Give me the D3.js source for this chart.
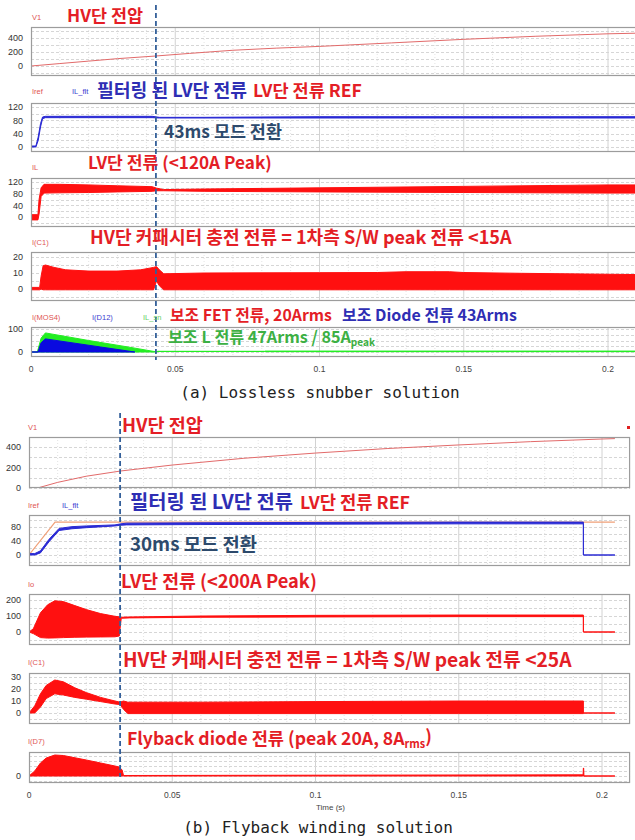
<!DOCTYPE html>
<html><head><meta charset="utf-8">
<script src="https://cdn.jsdelivr.net/npm/d3@7"></script>
<style>body{margin:0;background:#fff}svg{display:block}</style>
</head><body>
<script>
// ================= DATA =================
// Time-axis tick labels
const xTicks = [0, 0.05, 0.1, 0.15, 0.2];
const xTickLabels = ["0", "0.05", "0.1", "0.15", "0.2"];

// ---- (a) Lossless snubber solution ----
const aV1_t = [0, 0.01, 0.02, 0.03, 0.0433, 0.055, 0.07, 0.085, 0.1, 0.125, 0.15, 0.175, 0.2, 0.2115];
const aV1_v = [0, 35, 70, 105, 143, 180, 225, 255, 280, 330, 381, 425, 460, 470];

const aILflt_t  = [0, 0.0017, 0.0025, 0.0033, 0.004, 0.005, 0.02, 0.042, 0.0445, 0.06, 0.1, 0.15, 0.2, 0.2115];
const aILflt_hi = [3, 3, 30, 70, 90, 92, 92, 92, 89, 89, 91, 91, 91, 91];
const aILflt_lo = [0, 0, 20, 60, 85, 88, 88, 88, 87, 87, 87, 87, 87, 87];

const aIL_t  = [0, 0.0024, 0.0028, 0.0035, 0.0045, 0.01, 0.02, 0.03, 0.042, 0.0435, 0.046, 0.06, 0.1, 0.15, 0.2, 0.2115];
const aIL_hi = [8, 8, 60, 100, 112, 112, 110, 107, 104, 99, 94, 96, 100, 105, 110, 110];
const aIL_lo = [-10, -10, 10, 70, 82, 83, 84, 86, 88, 90, 90, 88, 86, 84, 82, 82];

const aIC1_t  = [0, 0.003, 0.0035, 0.0042, 0.005, 0.008, 0.012, 0.02, 0.03, 0.038, 0.0425, 0.0435, 0.0445, 0.046, 0.06, 0.1, 0.12, 0.13, 0.145, 0.15, 0.17, 0.2, 0.2115];
const aIC1_hi = [1, 1, 8, 14.5, 15, 13.5, 12, 11.2, 11.2, 12, 13.5, 14, 12, 9.5, 10, 10.2, 10.3, 10.8, 10.8, 10.3, 9.8, 9.2, 9];
const aIC1_lo = [-0.5, -0.5, 0, -0.5, -0.5, -0.5, -0.5, -0.5, -0.5, -0.5, -0.5, 5, 2, -0.5, -0.5, -0.5, -0.5, -0.5, -0.5, -0.5, -0.5, -0.5, -0.5];

const aLsn_t  = [0, 0.0022, 0.0035, 0.005, 0.02, 0.035, 0.0437, 0.0438, 0.081, 0.0812, 0.2115];
const aLsn_hi = [0, 0, 60, 83, 50, 19, 0, 3, 3, 4, 4];
const aLsn_lo = [0, 0, 0, 0, 0, 0, 0, 2, 2, 1.5, 1.5];

const aD12_t  = [0, 0.0024, 0.0035, 0.005, 0.024, 0.036];
const aD12_hi = [0, 0, 40, 57, 22, 0];
const aD12_lo = [0, 0, 0, 0, 0, 0];

// ---- (b) Flyback winding solution ----
const bV1_t = [0, 0.003, 0.01, 0.02, 0.032, 0.05, 0.075, 0.1, 0.125, 0.15, 0.175, 0.2, 0.2045];
const bV1_v = [0, 0, 55, 115, 166, 224, 290, 341, 385, 420, 452, 478, 482];

const bIref_t = [0, 0.0091, 0.2045];
const bIref_v = [0, 94, 94];

const bILflt_t  = [0, 0.002, 0.004, 0.007, 0.0105, 0.015, 0.02, 0.03, 0.032, 0.034, 0.06, 0.1, 0.15, 0.1935, 0.19351, 0.2045];
const bILflt_hi = [4, 4, 12, 45, 76, 81, 83, 86, 89, 91, 92, 93, 94, 94, 0, 0];
const bILflt_lo = [0, 0, 6, 38, 70, 75, 78, 83, 85, 86, 87, 88, 89, 89, 0, 0];

const bIo_t  = [0, 0.0015, 0.004, 0.0065, 0.009, 0.012, 0.016, 0.02, 0.025, 0.03, 0.0315, 0.0322, 0.035, 0.06, 0.1, 0.15, 0.1935, 0.19351, 0.2045];
const bIo_hi = [0, 20, 120, 170, 195, 190, 165, 140, 115, 98, 95, 92, 94, 100, 104, 106, 106, 0, 0];
const bIo_lo = [0, -10, -35, -38, -37, -35, -33, -32, -31, -30, -25, 86, 88, 92, 94, 96, 96, 0, 0];

const bIC1_t  = [0, 0.002, 0.004, 0.006, 0.009, 0.012, 0.016, 0.02, 0.025, 0.03, 0.0318, 0.033, 0.0345, 0.06, 0.1, 0.15, 0.1935, 0.19351, 0.2045];
const bIC1_hi = [0, 6, 16, 23, 27.5, 26, 21, 17, 13, 10, 9, 10, 9, 9, 9.5, 10, 10, 0, 0];
const bIC1_lo = [0, 0, 5, 12, 16, 15, 13, 11.5, 9.5, 7.5, 7, 3, -0.5, -0.5, -0.5, -0.5, -0.5, 0, 0];

const bD7_t  = [0, 0.002, 0.004, 0.006, 0.009, 0.012, 0.02, 0.025, 0.03, 0.0315, 0.0325, 0.033, 0.1, 0.1934, 0.1935, 0.1936, 0.1937, 0.2045];
const bD7_hi = [0, 5, 13, 18, 21, 20.5, 16, 13, 10, 9, 6, 0.5, 0.8, 1.2, 8, 8, 0, 0];
const bD7_lo = [0, 0, 0, 0, 0, 0, 0, 0, 0, 0, 0, 0, 0, 0, 0, 0, 0, 0];

// Y tick values per panel
const aTicks = [[0, 200, 400], [0, 40, 80, 120], [0, 40, 80, 120], [0, 10, 20], [0, 100]];
const bTicks = [[0, 200, 400], [0, 40, 80], [0, 100, 200], [0, 10, 20, 30], [0]];

// Mode-switch instants
const aSwitch = 0.0433, bSwitch = 0.0318;

// ================= LAYOUT / STYLE =================
const W = 635, H = 840;
const RED = "#ff1010", BLUE = "#0a0ae0", GREEN = "#22ee22";
const TRED = "#e41e26", TBLUE = "#2e2eb4", TGREEN = "#3cb043", TSLATE = "#2d4a6c";

const svg = d3.select("body").append("svg").attr("width", W).attr("height", H)
  .style("font-family", "'Liberation Sans', Arial, sans-serif");

const zip = (t, hi, lo) => t.map((d, i) => ({t: d, hi: hi[i], lo: lo[i]}));

const parts = {
  a: {x: d3.scaleLinear().domain([0, 0.2]).range([31, 608]), tEnd: 0.2125, tickX: 23,
      switchT: aSwitch, dashY: [5, 360], axisY: 372, caption: "(a) Lossless snubber solution", capX: 320, capY: 398,
      panels: [
        {top: 27, bottom: 76, a0: [0, 66], a1: [400, 38], ticks: aTicks[0], minor: 100},
        {top: 103, bottom: 152, a0: [0, 147], a1: [120, 107], ticks: aTicks[1], minor: 20},
        {top: 178, bottom: 227, a0: [0, 217], a1: [120, 182], ticks: aTicks[2], minor: 20},
        {top: 252, bottom: 301, a0: [0, 289], a1: [20, 257], ticks: aTicks[3], minor: 5},
        {top: 327, bottom: 357, a0: [0, 352], a1: [100, 329], ticks: aTicks[4], minor: 25}
      ]},
  b: {x: d3.scaleLinear().domain([0, 0.2]).range([29, 602]), tEnd: 0.2098, tickX: 21,
      switchT: bSwitch, dashY: [413, 777], axisY: 798, caption: "(b) Flyback winding solution", capX: 318, capY: 833,
      panels: [
        {top: 437, bottom: 488, a0: [0, 488], a1: [400, 447], ticks: bTicks[0], minor: 100},
        {top: 515, bottom: 566, a0: [0, 555], a1: [80, 527], ticks: bTicks[1], minor: 20},
        {top: 594, bottom: 645, a0: [0, 632], a1: [200, 600], ticks: bTicks[2], minor: 50},
        {top: 673, bottom: 724, a0: [0, 713], a1: [30, 677], ticks: bTicks[3], minor: 5},
        {top: 752, bottom: 783, a0: [0, 776], a1: [20, 756], ticks: bTicks[4], minor: 5}
      ]}
};

// Series per panel
parts.a.panels[0].series = [{type: "line", data: zip(aV1_t, aV1_v, aV1_v), color: "#e26a6a", w: 1}];
parts.a.panels[1].series = [{type: "band", data: zip(aILflt_t, aILflt_hi, aILflt_lo), color: "#2a2ad4", w: 1}];
parts.a.panels[2].series = [{type: "band", data: zip(aIL_t, aIL_hi, aIL_lo), color: RED, w: 1}];
parts.a.panels[3].series = [{type: "band", data: zip(aIC1_t, aIC1_hi, aIC1_lo), color: RED, w: 1}];
parts.a.panels[4].series = [
  {type: "band", data: zip(aLsn_t, aLsn_hi, aLsn_lo), color: GREEN, w: 1},
  {type: "band", data: zip(aD12_t, aD12_hi, aD12_lo), color: BLUE, w: 1}];

parts.b.panels[0].series = [{type: "line", data: zip(bV1_t, bV1_v, bV1_v), color: "#e26a6a", w: 1}];
parts.b.panels[1].series = [
  {type: "line", data: zip(bIref_t, bIref_v, bIref_v), color: "#f0a078", w: 1.2},
  {type: "band", data: zip(bILflt_t, bILflt_hi, bILflt_lo), color: "#2a2ad4", w: 1}];
parts.b.panels[2].series = [{type: "band", data: zip(bIo_t, bIo_hi, bIo_lo), color: RED, w: 1}];
parts.b.panels[3].series = [{type: "band", data: zip(bIC1_t, bIC1_hi, bIC1_lo), color: RED, w: 1}];
parts.b.panels[4].series = [{type: "band", data: zip(bD7_t, bD7_hi, bD7_lo), color: RED, w: 1}];

function drawPart(P) {
  const x = P.x;
  const xL = x(0), xR = x(P.tEnd);
  const g = svg.append("g");
  P.panels.forEach(p => {
    const y = d3.scaleLinear().domain([p.a0[0], p.a1[0]]).range([p.a0[1], p.a1[1]]);
    const pg = g.append("g");
    pg.append("rect").attr("x", xL).attr("y", p.top).attr("width", xR - xL).attr("height", p.bottom - p.top)
      .attr("fill", "#fff");
    const clipId = "c" + Math.round(p.top);
    pg.append("clipPath").attr("id", clipId).append("rect")
      .attr("x", xL).attr("y", p.top).attr("width", xR - xL).attr("height", p.bottom - p.top);
    // minor vertical grid
    const minorT = d3.range(0.01, P.tEnd, 0.01).filter(t => Math.abs(t / 0.05 - Math.round(t / 0.05)) > 1e-6);
    pg.selectAll(".vm").data(minorT).join("line")
      .attr("x1", d => x(d)).attr("x2", d => x(d)).attr("y1", p.top).attr("y2", p.bottom)
      .attr("stroke", "#e4e4e4").attr("stroke-dasharray", "1,2").attr("stroke-width", 1);
    // major vertical grid
    pg.selectAll(".vM").data(xTicks.slice(1)).join("line")
      .attr("x1", d => x(d)).attr("x2", d => x(d)).attr("y1", p.top).attr("y2", p.bottom)
      .attr("stroke", "#d2d2d2").attr("stroke-width", 1);
    // horizontal grid
    const vLo = y.invert(p.bottom), vHi = y.invert(p.top);
    const hv = d3.range(Math.ceil(vLo / p.minor) * p.minor, vHi, p.minor);
    pg.selectAll(".h").data(hv).join("line")
      .attr("x1", xL).attr("x2", xR).attr("y1", d => Math.round(y(d)) + 0.5).attr("y2", d => Math.round(y(d)) + 0.5)
      .attr("stroke", "#d6d6d6").attr("stroke-dasharray", "3,2").attr("stroke-width", 1);
    // series
    const sg = pg.append("g").attr("clip-path", `url(#${clipId})`);
    p.series.forEach(s => {
      if (s.type === "band") {
        const area = d3.area().x(d => x(d.t)).y0(d => y(d.lo)).y1(d => y(d.hi));
        sg.append("path").attr("d", area(s.data)).attr("fill", s.color)
          .attr("stroke", s.color).attr("stroke-width", s.w).attr("stroke-linejoin", "round");
      } else {
        const line = d3.line().x(d => x(d.t)).y(d => y(d.hi));
        sg.append("path").attr("d", line(s.data)).attr("fill", "none")
          .attr("stroke", s.color).attr("stroke-width", s.w);
      }
    });
    // border
    pg.append("rect").attr("x", xL + 0.5).attr("y", p.top + 0.5).attr("width", xR - xL - 1).attr("height", p.bottom - p.top - 1)
      .attr("fill", "none").attr("stroke", "#9c9c9c").attr("stroke-width", 1.2);
    // y tick labels
    pg.selectAll(".yt").data(p.ticks).join("text")
      .attr("x", P.tickX).attr("y", d => y(d) + 3.2).attr("text-anchor", "end")
      .attr("font-size", 9).attr("fill", "#333").text(d => d);
  });
  // x tick labels
  g.selectAll(".xt").data(xTicks).join("text")
    .attr("x", d => x(d)).attr("y", P.axisY).attr("text-anchor", "middle")
    .attr("font-size", 8.5).attr("fill", "#444").text((d, i) => xTickLabels[i]);
  // dashed mode switch line
  g.append("line").attr("x1", x(P.switchT)).attr("x2", x(P.switchT))
    .attr("y1", P.dashY[0]).attr("y2", P.dashY[1])
    .attr("stroke", "#34609a").attr("stroke-width", 1.8).attr("stroke-dasharray", "5,3");
  // caption
  g.append("text").attr("x", P.capX).attr("y", P.capY).attr("text-anchor", "middle")
    .attr("font-family", "'DejaVu Sans Mono', monospace").attr("font-size", 16).attr("fill", "#222")
    .text(P.caption);
}
drawPart(parts.a);
drawPart(parts.b);

// ---- small PSIM series labels ----
const smallLabels = [
  ["V1", 32, 20, "#e05454"], ["Iref", 32, 94, "#e05454"], ["IL_flt", 72, 94, "#3a3ad0"],
  ["IL", 32, 170, "#e05454"], ["I(C1)", 32, 245, "#e05454"], ["I(MOS4)", 32, 320, "#e05454"],
  ["I(D12)", 92, 320, "#3a3ad0"], ["IL_sn", 143, 320, "#66d066"],
  ["V1", 28, 430, "#e05454"], ["Iref", 28, 508, "#e05454"], ["IL_flt", 62, 508, "#3a3ad0"],
  ["Io", 28, 587, "#e05454"], ["I(C1)", 28, 665, "#e05454"], ["I(D7)", 28, 744, "#e05454"]
];
svg.selectAll(".sl").data(smallLabels).join("text")
  .attr("x", d => d[0] ? d[1] : 0).attr("y", d => d[2]).attr("fill", d => d[3])
  .attr("font-size", 7.5).text(d => d[0]);

// ---- annotation titles (fit to reference width) ----
function title(segs, x, y, width, size) {
  const t = svg.append("text").attr("x", x).attr("y", y).attr("font-size", size)
    .attr("font-family", "'Noto Sans CJK KR', sans-serif").attr("font-weight", "bold");
  segs.forEach(s => {
    const ts = t.append("tspan").attr("fill", s.c).text(s.s);
    if (s.sub) ts.attr("font-size", "0.62em").attr("dy", "0.25em");
    if (s.after) ts.attr("dy", "-0.25em");
  });
  const w = t.node().getComputedTextLength();
  t.attr("font-size", size * width / w);
  return t;
}
// (a)
title([{s: "HV단 전압", c: TRED}], 67, 22, 76, 15);
title([{s: "필터링 된 LV단 전류", c: TBLUE}], 97, 97, 150, 15);
title([{s: "LV단 전류 REF", c: TRED}], 253, 97, 109, 15);
title([{s: "43ms 모드 전환", c: TSLATE}], 164, 138, 118, 15);
title([{s: "LV단 전류 (<120A Peak)", c: TRED}], 88, 169, 184, 15);
title([{s: "HV단 커패시터 충전 전류 = 1차측 S/W peak 전류 <15A", c: TRED}], 90, 244, 422, 15);
title([{s: "보조 FET 전류, 20Arms", c: TRED}], 170, 321, 162, 14);
title([{s: "보조 Diode 전류 43Arms", c: TBLUE}], 342, 321, 175, 14);
title([{s: "보조 L 전류 47Arms / 85A", c: TGREEN}, {s: "peak", c: TGREEN, sub: true}], 168, 343, 207, 14);
// (b)
title([{s: "HV단 전압", c: TRED}], 122, 432, 81, 15);
title([{s: "필터링 된 LV단 전류", c: TBLUE}], 130, 509, 163, 15);
title([{s: "LV단 전류 REF", c: TRED}], 300, 509, 110, 15);
title([{s: "30ms 모드 전환", c: TSLATE}], 130, 551, 127, 15);
title([{s: "LV단 전류 (<200A Peak)", c: TRED}], 121, 588, 196, 15);
title([{s: "HV단 커패시터 충전 전류 = 1차측 S/W peak 전류 <25A", c: TRED}], 123, 667, 449, 15);
title([{s: "Flyback diode 전류 (peak 20A, 8A", c: TRED}, {s: "rms", c: TRED, sub: true}, {s: ")", c: TRED, after: true}], 127, 745, 305, 15);

// x axis title for (b)
svg.append("text").attr("x", 316).attr("y", 810).attr("font-size", 8).attr("fill", "#444").text("Time (s)");
// small red marker at top right of (b)
svg.append("rect").attr("x", 627).attr("y", 426).attr("width", 3).attr("height", 3).attr("fill", "#e02020");
</script>
</body></html>
